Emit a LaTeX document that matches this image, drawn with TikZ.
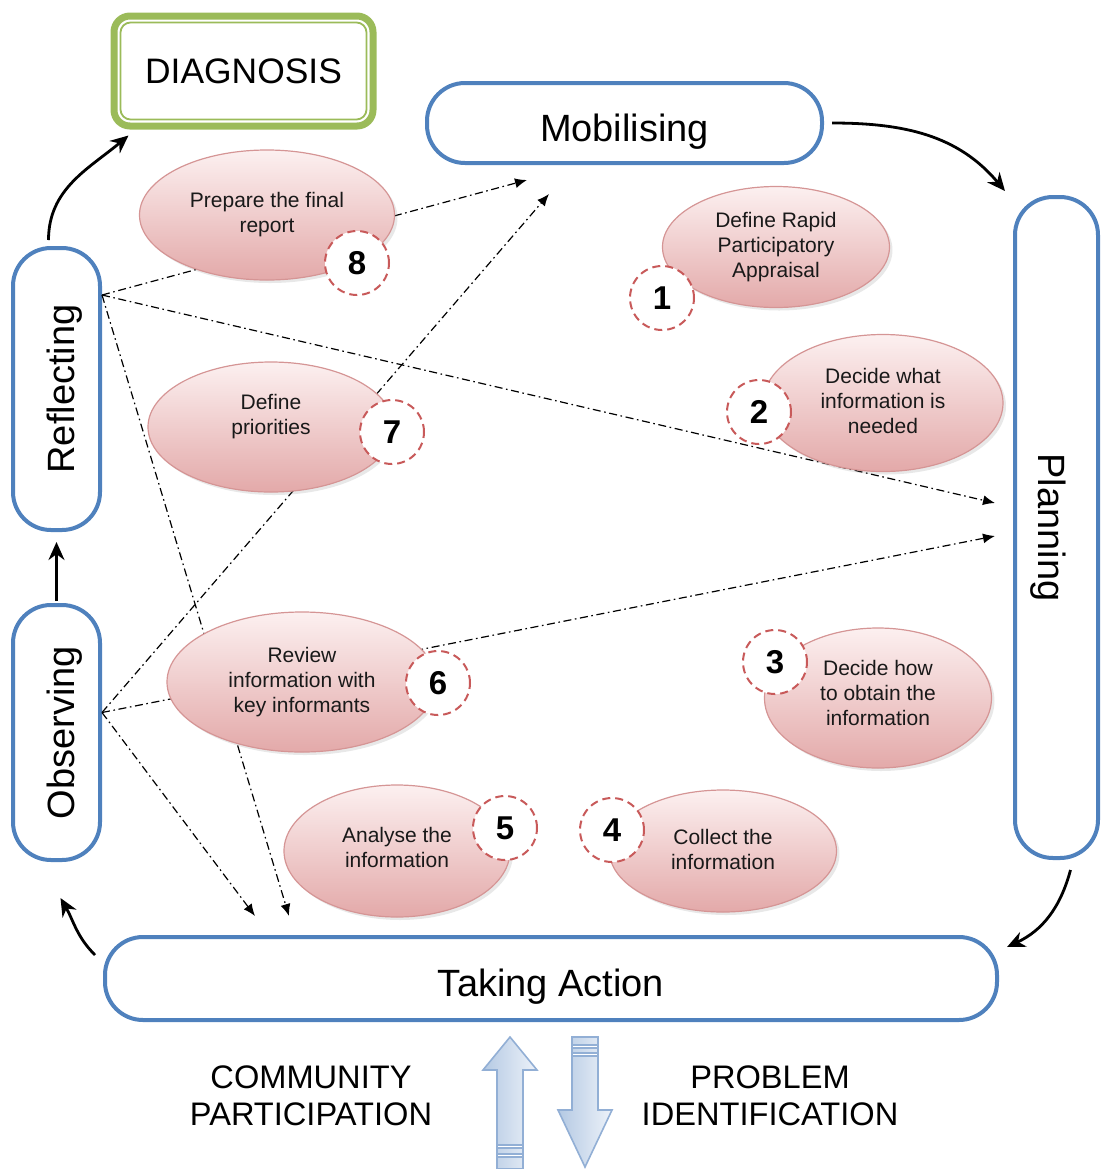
\documentclass[tikz,border=0pt]{standalone}
\usepackage{fontspec}
\setmainfont{Liberation Sans}
\usepackage{graphicx}
\usetikzlibrary{arrows.meta, positioning, calc, shapes.geometric, shadows}

\definecolor{stageblue}{HTML}{4F81BD}
\definecolor{diaggreen}{HTML}{9BBB59}
\definecolor{numred}{HTML}{C85A5A}
\definecolor{pinktop}{HTML}{FCF0F0}
\definecolor{pinkbot}{HTML}{E3A9A9}
\definecolor{pinkline}{HTML}{D59595}
\definecolor{blockleft}{HTML}{B4C9E3}
\definecolor{blockright}{HTML}{EDF2F9}
\definecolor{blockline}{HTML}{92AFD5}

% stage label, set a little below the middle
\newcommand{\stagetext}[1]{\raisebox{-9pt}[0pt][0pt]{#1}}

\begin{document}
\begin{tikzpicture}[
		x=0.5pt, y=-0.5pt,
		stage/.style={draw=stageblue, line width=2pt, rounded corners=19pt, fill=white,
			inner sep=0pt, font=\fontsize{19}{22}\selectfont},
		task/.style={ellipse, draw=pinkline, line width=0.6pt, top color=pinktop, bottom color=pinkbot,
			inner sep=0pt, align=center, text=black!90, font=\fontsize{10.5}{12.5}\selectfont,
			drop shadow={opacity=0.18, shadow xshift=1.5pt, shadow yshift=-1.5pt}},
		num/.style={circle, draw=numred, dash pattern=on 4pt off 2.5pt, line width=1pt, fill=white,
			minimum size=32pt, inner sep=0pt, font=\bfseries\fontsize{16.5}{16.5}\selectfont},
		cyclearrow/.style={-{Stealth[length=9pt, width=8pt]}, line width=1.4pt},
		link/.style={-{Latex[length=6pt, width=5pt]}, line width=0.6pt,
			dash pattern=on 4pt off 1.8pt on 0.8pt off 1.8pt},
		blockarrow/.style={draw=blockline, line width=0.8pt, left color=blockleft, right color=blockright}
		]
		\useasboundingbox (0,0) rectangle (1100,1169);
		
		% === STAGES ===
		\node [draw=diaggreen, line width=3.5pt, rounded corners=8pt, fill=white,
		minimum width=129.5pt, minimum height=55pt,
		font=\fontsize{17.7}{20}\selectfont] (diag) at (243.5,71) {DIAGNOSIS};
		\draw [diaggreen, line width=0.9pt, rounded corners=5pt]
		($(diag.north west)+(5pt,-5pt)$) rectangle ($(diag.south east)+(-5pt,5pt)$);
		
		\node [stage, minimum width=197.5pt, minimum height=40pt] (mob) at (624.5,123) {\stagetext{Mobilising}};
		\node [stage, minimum width=41.5pt, minimum height=330.5pt] (plan) at (1056.5,527.5) {\rotatebox{-90}{\stagetext{Planning}}};
		\node [stage, minimum width=446pt, minimum height=41.5pt] (act) at (551,978.5) {\stagetext{Taking Action}};
		\node [stage, minimum width=43.5pt, minimum height=127.5pt] (obs) at (56.5,732.5) {\rotatebox{90}{\stagetext{Observing}}};
		\node [stage, minimum width=43.5pt, minimum height=141pt] (refl) at (56.5,389) {\rotatebox{90}{\stagetext{Reflecting}}};
		
		% === LINKS (dash-dot) ===
		\coordinate (mobtipA) at (527,180);
		\coordinate (mobtipB) at (549,194);
		\coordinate (plantipA) at (995,503);
		\coordinate (plantipB) at (995,536);
		\coordinate (acttipA) at (289,916);
		\coordinate (acttipB) at (255,916);
		
		% from Reflecting
		\draw[link] ([yshift=47pt]refl.east) -- (mobtipA);
		\draw[link] ([yshift=47pt]refl.east) -- (plantipA);
		\draw[link] ([yshift=47pt]refl.east) -- (acttipA);
		% from Observing
		\draw[link] ([yshift=10pt]obs.east) -- (mobtipB);
		\draw[link] ([yshift=10pt]obs.east) -- (plantipB);
		\draw[link] ([yshift=10pt]obs.east) -- (acttipB);
		
		% === STEPS ===
		\node [task, minimum width=127.5pt, minimum height=65pt] (prep) at (267,215) {Prepare the final\\report};
		\node [task, minimum width=113.5pt, minimum height=60.5pt] (rpa) at (776,247) {Define Rapid\\Participatory\\Appraisal};
		\node [task, minimum width=120pt, minimum height=68.5pt, text depth=2pt] (need) at (883,403) {Decide what\\information is\\needed};
		\node [task, minimum width=113.5pt, minimum height=70pt, text depth=5pt] (how) at (878,698) {Decide how\\to obtain the\\information};
		\node [task, minimum width=113.5pt, minimum height=61pt, text depth=2pt] (collect) at (723,851) {Collect the\\information};
		\node [task, minimum width=113pt, minimum height=66pt, text depth=4pt] (analyse) at (397,851) {Analyse the\\information};
		\node [task, minimum width=135pt, minimum height=70pt] (review) at (302,682) {Review\\information with\\key informants};
		\node [task, minimum width=123pt, minimum height=65pt, text depth=12.5pt] (prio) at (271,427) {Define\\priorities};
		
		% step numbers
		\node [num] (n1) at (662,298) {1};
		\node [num] (n2) at (759,412) {2};
		\node [num] (n3) at (775,662) {3};
		\node [num] (n4) at (612,830) {4};
		\node [num] (n5) at (505,828) {5};
		\node [num] (n6) at (438,683) {6};
		\node [num] (n7) at (392,432) {7};
		\node [num] (n8) at (357,263) {8};
		
		% === CYCLE ARROWS ===
		\draw[cyclearrow] ([xshift=-4pt, yshift=3pt]refl.north) to[out=90, in=220] ([xshift=9pt, yshift=-3pt]diag.south west);
		\draw[cyclearrow] ([xshift=4pt]mob.east) to[out=0, in=130] ([xshift=-4pt, yshift=2pt]plan.north west);
		\draw[cyclearrow] ([xshift=7pt, yshift=-5pt]plan.south) to[out=255, in=25] ([xshift=4pt, yshift=-6pt]act.north east);
		\draw[cyclearrow] ([xshift=-4pt, yshift=-10pt]act.north west) to[out=135, in=-60] ([xshift=2pt, yshift=-18pt]obs.south);
		\draw[cyclearrow] ([yshift=1pt]obs.north) -- ([yshift=-5pt]refl.south);
		
		% === BOTTOM ===
		\draw[blockarrow] (510,1037) -- (537,1070) -- (523,1070) -- (523,1169) -- (497,1169) -- (497,1070) -- (483,1070) -- cycle;
		\draw[blockarrow] (572,1037) -- (598,1037) -- (598,1110) -- (612,1110) -- (585,1167) -- (558,1110) -- (572,1110) -- cycle;
		\foreach \y in {1145,1154} {
			\draw[blockline, fill=white, line width=0.6pt] (497,\y) rectangle (523,\y+3);
		}
		\foreach \y in {1045,1053} {
			\draw[blockline, fill=white, line width=0.6pt] (572,\y) rectangle (598,\y+3);
		}
		
		\node [align=center, font=\fontsize{16.3}{18.5}\selectfont] (commpart) at (311,1096) {COMMUNITY\\PARTICIPATION};
		\node [align=center, font=\fontsize{16.3}{18.5}\selectfont] (probid) at (770,1096) {PROBLEM\\IDENTIFICATION};
		
	\end{tikzpicture}
\end{document}
